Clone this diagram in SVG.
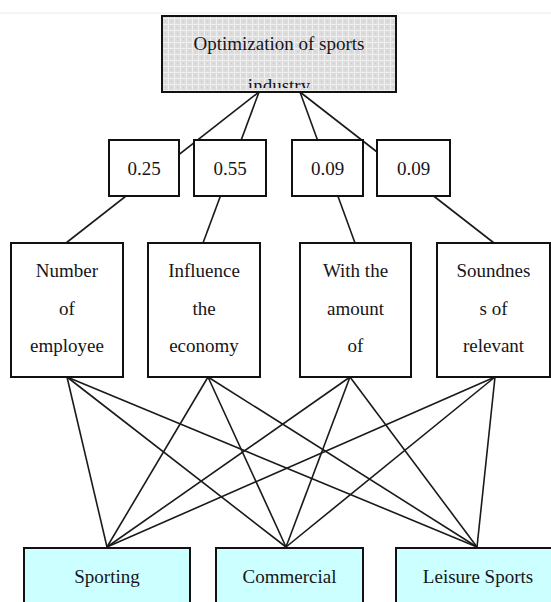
<svg xmlns="http://www.w3.org/2000/svg" width="551" height="602" viewBox="0 0 551 602">
  <defs>
    <pattern id="dots" width="6" height="6" patternUnits="userSpaceOnUse">
      <rect width="6" height="6" fill="#dcdcdc"/>
      <rect x="0" y="0" width="6" height="1" fill="#efefef"/>
      <rect x="0" y="0" width="1" height="6" fill="#efefef"/>
      <rect x="3" y="3" width="1" height="1" fill="#c8c8c8"/>
    </pattern>
    <clipPath id="topclip">
      <rect x="163" y="17" width="232" height="71"/>
    </clipPath>
  </defs>
  <style>
    .box { fill: #ffffff; stroke: #111111; stroke-width: 2; }
    .alt { fill: #ccffff; stroke: #111111; stroke-width: 2; }
    .lbl { font-family: "Liberation Serif", "Times New Roman", serif; font-size: 19px; fill: #151520; text-anchor: middle; }
    .conn line { stroke: #1a1a1a; stroke-width: 1.6; }
  </style>
  <rect width="551" height="602" fill="#ffffff"/>
  <line x1="0" y1="13" x2="551" y2="13" stroke="#ececec" stroke-width="1"/>

  <g id="connectors" class="conn">
    <line x1="259" y1="92" x2="66" y2="243"/>
    <line x1="259" y1="92" x2="203" y2="243"/>
    <line x1="300" y1="92" x2="355" y2="243"/>
    <line x1="300" y1="92" x2="494" y2="243"/>

    <line x1="67" y1="377" x2="107" y2="547"/>
    <line x1="67" y1="377" x2="286" y2="547"/>
    <line x1="67" y1="377" x2="477" y2="547"/>
    <line x1="208" y1="377" x2="107" y2="547"/>
    <line x1="208" y1="377" x2="286" y2="547"/>
    <line x1="208" y1="377" x2="477" y2="547"/>
    <line x1="350" y1="377" x2="107" y2="547"/>
    <line x1="350" y1="377" x2="286" y2="547"/>
    <line x1="350" y1="377" x2="477" y2="547"/>
    <line x1="495" y1="377" x2="107" y2="547"/>
    <line x1="495" y1="377" x2="286" y2="547"/>
    <line x1="495" y1="377" x2="477" y2="547"/>
  </g>

  <g id="goal">
    <rect x="162" y="16" width="234" height="76" fill="url(#dots)" stroke="#111111" stroke-width="2"/>
    <g clip-path="url(#topclip)">
      <text class="lbl" x="279" y="50">Optimization of sports</text>
      <text class="lbl" x="279" y="92">industry</text>
    </g>
  </g>

  <g id="w1"><rect class="box" x="109" y="140" width="70" height="56"/><text class="lbl" x="144" y="175">0.25</text></g>
  <g id="w2"><rect class="box" x="194" y="140" width="72" height="56"/><text class="lbl" x="230" y="175">0.55</text></g>
  <g id="w3"><rect class="box" x="292" y="140" width="71" height="56"/><text class="lbl" x="327.5" y="175">0.09</text></g>
  <g id="w4"><rect class="box" x="377" y="140" width="73" height="56"/><text class="lbl" x="413.5" y="175">0.09</text></g>

  <g id="c1"><rect class="box" x="11" y="243" width="112" height="134"/>
    <text class="lbl" x="67" y="277">Number</text>
    <text class="lbl" x="67" y="314.5">of</text>
    <text class="lbl" x="67" y="352">employee</text></g>
  <g id="c2"><rect class="box" x="148" y="243" width="112" height="134"/>
    <text class="lbl" x="204" y="277">Influence</text>
    <text class="lbl" x="204" y="314.5">the</text>
    <text class="lbl" x="204" y="352">economy</text></g>
  <g id="c3"><rect class="box" x="300" y="243" width="111" height="134"/>
    <text class="lbl" x="355.5" y="277">With the</text>
    <text class="lbl" x="355.5" y="314.5">amount</text>
    <text class="lbl" x="355.5" y="352">of</text></g>
  <g id="c4"><rect class="box" x="437" y="243" width="113" height="134"/>
    <text class="lbl" x="493.5" y="277">Soundnes</text>
    <text class="lbl" x="493.5" y="314.5">s of</text>
    <text class="lbl" x="493.5" y="352">relevant</text></g>

  <g id="a1"><rect class="alt" x="24" y="548" width="166" height="70"/><text class="lbl" x="107" y="583">Sporting</text></g>
  <g id="a2"><rect class="alt" x="216" y="548" width="147" height="70"/><text class="lbl" x="289.5" y="583">Commercial</text></g>
  <g id="a3"><rect class="alt" x="396" y="548" width="164" height="70"/><text class="lbl" x="478" y="583">Leisure Sports</text></g>
</svg>
